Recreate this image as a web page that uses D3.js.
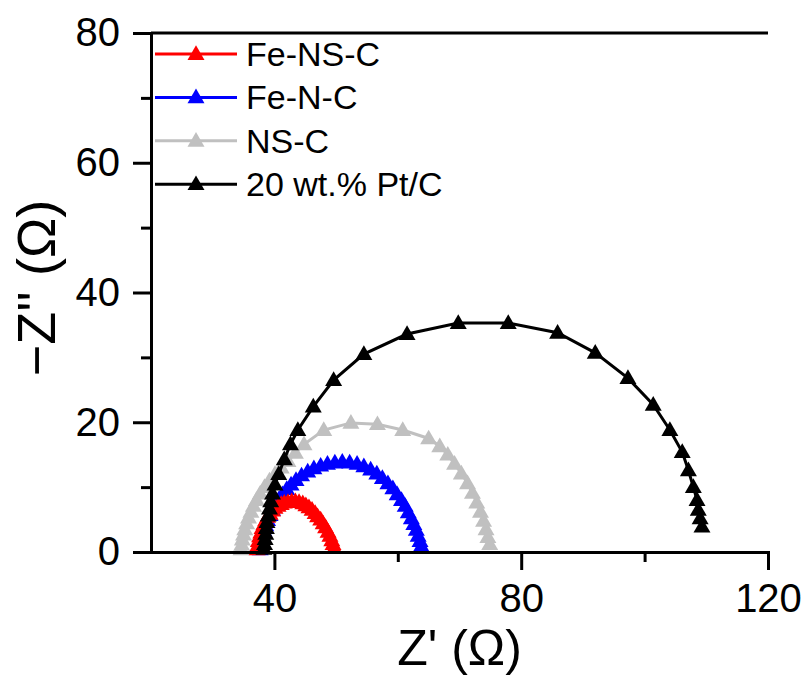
<!DOCTYPE html>
<html lang="en">
<head>
    <meta charset="UTF-8">
    <title>Nyquist plot</title>
    <style>
        body { margin: 0; background: #fff; font-family: "Liberation Sans", Arial, sans-serif; }
    </style>
    <script src="https://d3js.org/d3.v7.min.js"></script>
</head>
<body>
    <div id="chart"></div>
    <script>
        // series names and colours
        const seriesNames = ['Fe-NS-C', 'Fe-N-C', 'NS-C', '20 wt.% Pt/C'];
        const seriesColors = ['#ff0000', '#0000ff', '#c0c0c0', '#000000'];

        // [Z', -Z''] values
        const feNSC = [[37.2,0.4],[37.3,1.0],[37.4,1.7],[37.6,2.4],[37.8,3.0],[38.0,3.7],[38.3,4.3],[38.6,4.9],
            [38.9,5.4],[39.3,5.9],[39.7,6.4],[40.1,6.8],[40.6,7.1],[41.1,7.4],[41.6,7.6],[42.2,7.7],[42.8,7.8],
            [43.4,7.8],[44.0,7.7],[44.6,7.5],[45.1,7.2],[45.6,6.9],[46.1,6.5],[46.6,6.0],[47.0,5.5],[47.5,5.0],
            [47.9,4.4],[48.3,3.8],[48.7,3.1],[49.0,2.5],[49.3,1.8],[49.5,1.2],[49.7,0.6]];
        const feNC = [[37.7,0.4],[37.8,1.1],[37.9,1.8],[38.1,2.6],[38.3,3.3],[38.6,4.1],[38.9,4.9],[39.3,5.7],
            [39.7,6.5],[40.2,7.3],[40.7,8.1],[41.3,8.9],[42.0,9.7],[42.7,10.4],[43.5,11.1],[44.4,11.8],[45.4,12.4],
            [46.4,12.9],[47.5,13.3],[48.6,13.6],[49.8,13.8],[51.0,13.9],[52.2,13.8],[53.4,13.6],[54.5,13.2],
            [55.6,12.7],[56.6,12.1],[57.5,11.4],[58.4,10.6],[59.2,9.8],[59.9,8.9],[60.6,8.0],[61.2,7.1],[61.7,6.1],
            [62.2,5.2],[62.6,4.3],[63.0,3.4],[63.3,2.5],[63.6,1.7],[63.8,0.9]];
        const nsC = [[34.6,0.4],[34.7,1.1],[34.8,1.9],[35.0,2.7],[35.2,3.5],[35.5,4.4],[35.8,5.3],[36.2,6.2],
            [36.6,7.1],[37.1,8.0],[37.7,9.0],[38.4,10.0],[39.2,11.0],[40.1,12.0],[41.1,13.0],[42.2,14.0],
            [43.4,15.3],[44.8,16.6],[48.0,18.8],[52.4,19.9],[56.7,19.7],[60.8,18.8],[65.0,17.5],[66.8,16.3],
            [68.1,15.0],[69.2,13.6],[70.3,12.1],[71.3,10.6],[72.1,9.1],[72.8,7.6],[73.4,6.2],[73.9,4.8],
            [74.3,3.5],[74.6,2.3],[74.9,1.2]];
        const ptC = [[38.3,0.5],[38.4,1.2],[38.5,2.0],[38.6,2.8],[38.7,3.7],[38.8,4.6],[39.0,5.6],[39.2,6.7],
            [39.4,7.8],[39.7,9.0],[40.1,10.4],[40.7,12.0],[41.6,14.3],[42.6,16.6],[43.8,18.8],[46.3,22.4],
            [49.6,26.5],[54.5,30.5],[61.5,33.6],[69.8,35.3],[77.9,35.3],[85.9,33.8],[92.0,30.7],[97.3,26.8],
            [101.4,22.7],[104.1,18.8],[106.1,15.4],[107.1,12.6],[107.9,10.0],[108.5,8.0],[108.7,6.5],
            [109.0,5.2],[109.3,3.9]];
        const seriesData = [feNSC, feNC, nsC, ptC];

        // axis ticks
        const xTicks = [40, 80, 120];
        const xMinorTicks = [60, 100];
        const yTicks = [0, 20, 40, 60, 80];
        const yMinorTicks = [10, 30, 50, 70];

        const W = 810, H = 679;
        const margin = {top: 33, right: 42, bottom: 127, left: 151};
        const width = W - margin.left - margin.right,
              height = H - margin.top - margin.bottom;

        const svg = d3.select('#chart').append('svg')
            .attr('width', W)
            .attr('height', H);
        const g = svg.append('g')
            .attr('transform', `translate(${margin.left},${margin.top})`);

        const x = d3.scaleLinear().domain([20, 120]).range([0, width]);
        const y = d3.scaleLinear().domain([0, 80]).range([height, 0]);

        // series: draw grey first, black last
        const drawOrder = [2, 1, 0, 3];
        const line = d3.line().x(d => x(d[0])).y(d => y(d[1]));
        const tri = d3.symbol().type(d3.symbolTriangle).size(125);

        drawOrder.forEach(i => {
            const sg = g.append('g');
            sg.append('path')
                .datum(seriesData[i])
                .attr('d', line)
                .attr('fill', 'none')
                .attr('stroke', seriesColors[i])
                .attr('stroke-width', 3);
            sg.selectAll('path.m')
                .data(seriesData[i])
                .enter().append('path')
                .attr('class', 'm')
                .attr('d', tri)
                .attr('transform', d => `translate(${x(d[0])},${y(d[1]) + 1})`)
                .attr('fill', seriesColors[i]);
        });

        // axes
        const axisStyle = sel => {
            sel.select('.domain').attr('stroke-width', 3).attr('stroke-linecap', 'square');
            sel.selectAll('.tick line').attr('stroke-width', 3);
            sel.selectAll('.tick text')
                .attr('font-family', '"Liberation Sans", Arial, sans-serif')
                .attr('font-size', 40)
                .attr('fill', '#000');
        };

        g.append('g')
            .attr('transform', `translate(0,${height})`)
            .call(d3.axisBottom(x).tickValues(xTicks).tickSize(18).tickPadding(14).tickSizeOuter(0))
            .call(axisStyle);
        g.append('g')
            .attr('transform', `translate(0,${height})`)
            .call(d3.axisBottom(x).tickValues(xMinorTicks).tickSize(10).tickFormat('').tickSizeOuter(0))
            .call(axisStyle);

        g.append('g')
            .call(d3.axisLeft(y).tickValues(yTicks).tickSize(18).tickPadding(13).tickSizeOuter(0))
            .call(axisStyle);
        g.append('g')
            .call(d3.axisLeft(y).tickValues(yMinorTicks).tickSize(10).tickFormat('').tickSizeOuter(0))
            .call(axisStyle);

        // top border
        g.append('line')
            .attr('x1', 0).attr('x2', width)
            .attr('y1', 0).attr('y2', 0)
            .attr('stroke', '#000')
            .attr('stroke-width', 3);

        // axis titles
        svg.append('text')
            .attr('x', margin.left + width / 2)
            .attr('y', 665)
            .attr('text-anchor', 'middle')
            .attr('font-size', 50)
            .text("Z' (Ω)");

        svg.append('text')
            .attr('transform', 'translate(55,288) rotate(-90)')
            .attr('text-anchor', 'middle')
            .attr('font-size', 54)
            .text("\u2212Z'' (Ω)");

        // legend
        const legend = g.append('g').attr('transform', 'translate(4,21)');
        seriesNames.forEach((name, i) => {
            const row = legend.append('g').attr('transform', `translate(0,${i * 43.4})`);
            row.append('line')
                .attr('x1', 0).attr('x2', 82)
                .attr('stroke', seriesColors[i])
                .attr('stroke-width', 3);
            row.append('path')
                .attr('d', tri)
                .attr('transform', 'translate(41,1)')
                .attr('fill', seriesColors[i]);
            row.append('text')
                .attr('x', 91)
                .attr('y', 12)
                .attr('font-size', 34)
                .text(name);
        });
    </script>
</body>
</html>
